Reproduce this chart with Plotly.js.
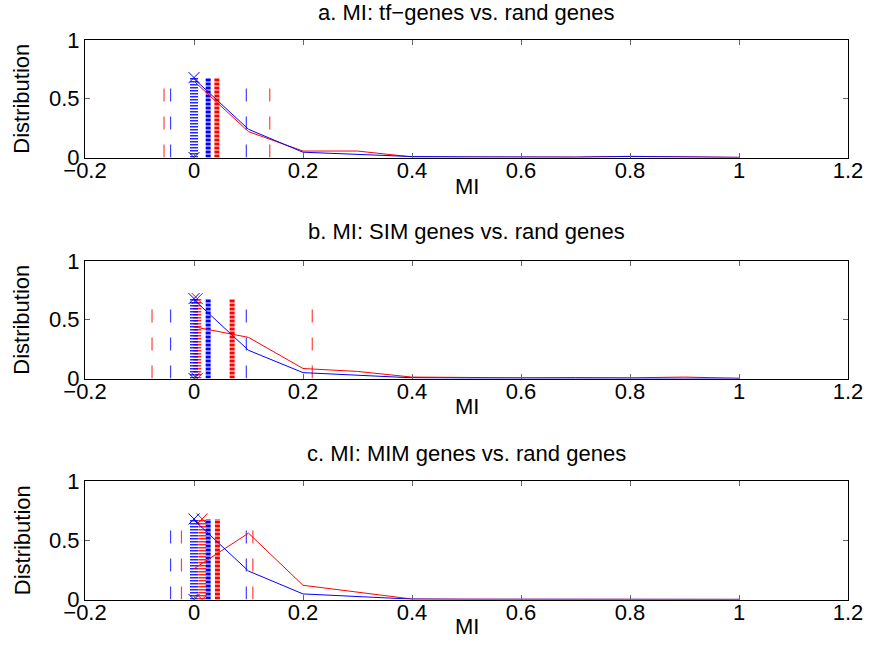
<!DOCTYPE html>
<html>
<head>
<meta charset="utf-8">
<script src="https://cdn.plot.ly/plotly-3.0.1.min.js"></script>
<style>html,body{margin:0;padding:0;background:#fff;}#chart{width:869px;height:663px;}</style>
</head>
<body>
<div id="chart"></div>
<script>
// ---- data ----
const panelTitles = ['a. MI: tf\u2212genes vs. rand genes', 'b. MI: SIM genes vs. rand genes', 'c. MI: MIM genes vs. rand genes'];
const xTitle = 'MI';
const yTitle = 'Distribution';
const xTickVals = [-0.2, 0, 0.2, 0.4, 0.6, 0.8, 1, 1.2];
const xTickText = ['\u22120.2', '0', '0.2', '0.4', '0.6', '0.8', '1', '1.2'];
const yTickVals = [0, 0.5, 1];
const yTickText = ['0', '0.5', '1'];

// distribution curves (bin centres)
const miBins = [0, 0.1, 0.2, 0.3, 0.4, 0.5, 0.6, 0.7, 0.8, 0.9, 1.0];
const aRed  = [0.65, 0.22, 0.055, 0.055, 0.005, 0.003, 0.002, 0.003, 0.010, 0.003, 0.001];
const aBlue = [0.67, 0.24, 0.045, 0.025, 0.008, 0.005, 0.003, 0.003, 0.008, 0.003, 0.001];
const bRed  = [0.44, 0.35, 0.085, 0.060, 0.012, 0.006, 0.006, 0.008, 0.006, 0.012, 0.002];
const bBlue = [0.67, 0.24, 0.050, 0.030, 0.006, 0.003, 0.002, 0.002, 0.002, 0.002, 0.001];
const cRed  = [0.26, 0.56, 0.120, 0.060, 0.004, 0.002, 0.002, 0.002, 0.001, 0.001, 0.001];
const cBlue = [0.67, 0.24, 0.047, 0.025, 0.003, 0.002, 0.002, 0.002, 0.002, 0.002, 0.001];

// dashed interval markers [low, high], drawn up to ciHeight
const ciHeight = 0.6;
const aRedCI = [-0.055, 0.139], aBlueCI = [-0.043, 0.096];
const bRedCI = [-0.077, 0.217], bBlueCI = [-0.043, 0.096];
const cRedCI = [-0.023, 0.108], cBlueCI = [-0.043, 0.096];

// stacked marker columns: x position (column runs from 0 to colHeight)
const colHeight = 0.68;
const aBlueX = 0,  aRedX = null,  aBlueDot = 0.026, aRedDot = 0.042;
const bBlueX = 0,  bRedX = 0.006, bBlueDot = 0.026, bRedDot = 0.070;
const cBlueX = 0,  cRedX = 0.015, cBlueDot = 0.026, cRedDot = 0.043;

const panels = [
  {red: aRed, blue: aBlue, redCI: aRedCI, blueCI: aBlueCI, blueX: aBlueX, redX: aRedX, blueDot: aBlueDot, redDot: aRedDot},
  {red: bRed, blue: bBlue, redCI: bRedCI, blueCI: bBlueCI, blueX: bBlueX, redX: bRedX, blueDot: bBlueDot, redDot: bRedDot},
  {red: cRed, blue: cBlue, redCI: cRedCI, blueCI: cBlueCI, blueX: cBlueX, redX: cRedX, blueDot: cBlueDot, redDot: cRedDot}
];

const RED = '#ff0000', BLUE = '#0000ff';
const FONT = '"Liberation Sans", Arial, Helvetica, sans-serif';
const FS = 22;

// pixel geometry of the axes boxes
const W = 869, H = 663;
const xL = 85, xR = 848;
const boxes = [[40, 157.5], [261, 378.5], [481, 599.5]];
const titleY = [12, 232, 453];
const xTitleY = [186, 406, 626];
const yTitleX = 22;

const traces = [];
const layout = {
  width: W, height: H,
  margin: {l: 0, r: 0, t: 0, b: 0},
  paper_bgcolor: '#fff', plot_bgcolor: '#fff',
  showlegend: false,
  font: {family: FONT, size: FS, color: '#000'},
  annotations: []
};

function ciTrace(ci, color, ax) {
  return {
    type: 'scatter', mode: 'lines', xaxis: ax.x, yaxis: ax.y, hoverinfo: 'skip',
    x: [ci[0], ci[0], null, ci[1], ci[1]],
    y: [0, ciHeight, null, 0, ciHeight],
    line: {color: color, width: 1.2, dash: '13px,15px'}, opacity: 0.75
  };
}
function xColumn(xpos, color, ax) {
  const out = [];
  out.push({
    type: 'scatter', mode: 'lines', xaxis: ax.x, yaxis: ax.y, hoverinfo: 'skip',
    x: [xpos, xpos], y: [0, colHeight],
    line: {color: color, width: 8, dash: '1.5px,1.5px'}, opacity: 0.85
  });
  out.push({
    type: 'scatter', mode: 'markers', xaxis: ax.x, yaxis: ax.y, hoverinfo: 'skip',
    x: [xpos, xpos], y: [0, colHeight],
    marker: {symbol: 'x-thin', size: 11, line: {color: color, width: 1}}
  });
  return out;
}
function dotColumn(xpos, color, ax) {
  return {
    type: 'scatter', mode: 'lines', xaxis: ax.x, yaxis: ax.y, hoverinfo: 'skip',
    x: [xpos, xpos], y: [0, colHeight],
    line: {color: color, width: 5, dash: '3px,1px'}
  };
}

panels.forEach((p, i) => {
  const n = i === 0 ? '' : String(i + 1);
  const ax = {x: 'x' + n, y: 'y' + n};
  const [top, bot] = boxes[i];
  const axStyle = {
    showline: true, linecolor: '#000', linewidth: 1, mirror: 'ticks',
    ticks: 'inside', ticklen: 5, tickcolor: '#666', tickwidth: 1,
    showgrid: false, zeroline: false, fixedrange: true,
    tickfont: {family: FONT, size: FS, color: '#000'}
  };
  layout['xaxis' + n] = Object.assign({}, axStyle, {
    domain: [xL / W, xR / W], range: [-0.2, 1.2], anchor: 'y' + n,
    tickmode: 'array', tickvals: xTickVals, ticktext: xTickText,
    ticklabelstandoff: -7
  });
  layout['yaxis' + n] = Object.assign({}, axStyle, {
    domain: [1 - bot / H, 1 - top / H], range: [0, 1], anchor: 'x' + n,
    tickmode: 'array', tickvals: yTickVals, ticktext: yTickText
  });
  layout.annotations.push({
    xref: 'paper', yref: 'paper', x: (xL + xR) / 2 / W, y: 1 - titleY[i] / H,
    xanchor: 'center', yanchor: 'middle', showarrow: false,
    text: panelTitles[i], font: {family: FONT, size: FS, color: '#000'}
  });
  layout.annotations.push({
    xref: 'paper', yref: 'paper', x: (xL + xR) / 2 / W, y: 1 - xTitleY[i] / H,
    xanchor: 'center', yanchor: 'middle', showarrow: false,
    text: xTitle, font: {family: FONT, size: FS, color: '#000'}
  });
  layout.annotations.push({
    xref: 'paper', yref: 'paper', x: yTitleX / W, y: 1 - (top + bot) / 2 / H,
    xanchor: 'center', yanchor: 'middle', showarrow: false, textangle: -90,
    text: yTitle, font: {family: FONT, size: FS, color: '#000'}
  });

  traces.push(ciTrace(p.redCI, RED, ax));
  traces.push(ciTrace(p.blueCI, BLUE, ax));
  traces.push(dotColumn(p.redDot, RED, ax));
  traces.push(dotColumn(p.blueDot, BLUE, ax));
  if (p.redX !== null) traces.push(...xColumn(p.redX, RED, ax));
  traces.push(...xColumn(p.blueX, BLUE, ax));
  traces.push({type: 'scatter', mode: 'lines', xaxis: ax.x, yaxis: ax.y, x: miBins, y: p.red,
    line: {color: RED, width: 1}});
  traces.push({type: 'scatter', mode: 'lines', xaxis: ax.x, yaxis: ax.y, x: miBins, y: p.blue,
    line: {color: BLUE, width: 1}});
});

Plotly.newPlot('chart', traces, layout, {staticPlot: true, displayModeBar: false});
</script>
</body>
</html>
